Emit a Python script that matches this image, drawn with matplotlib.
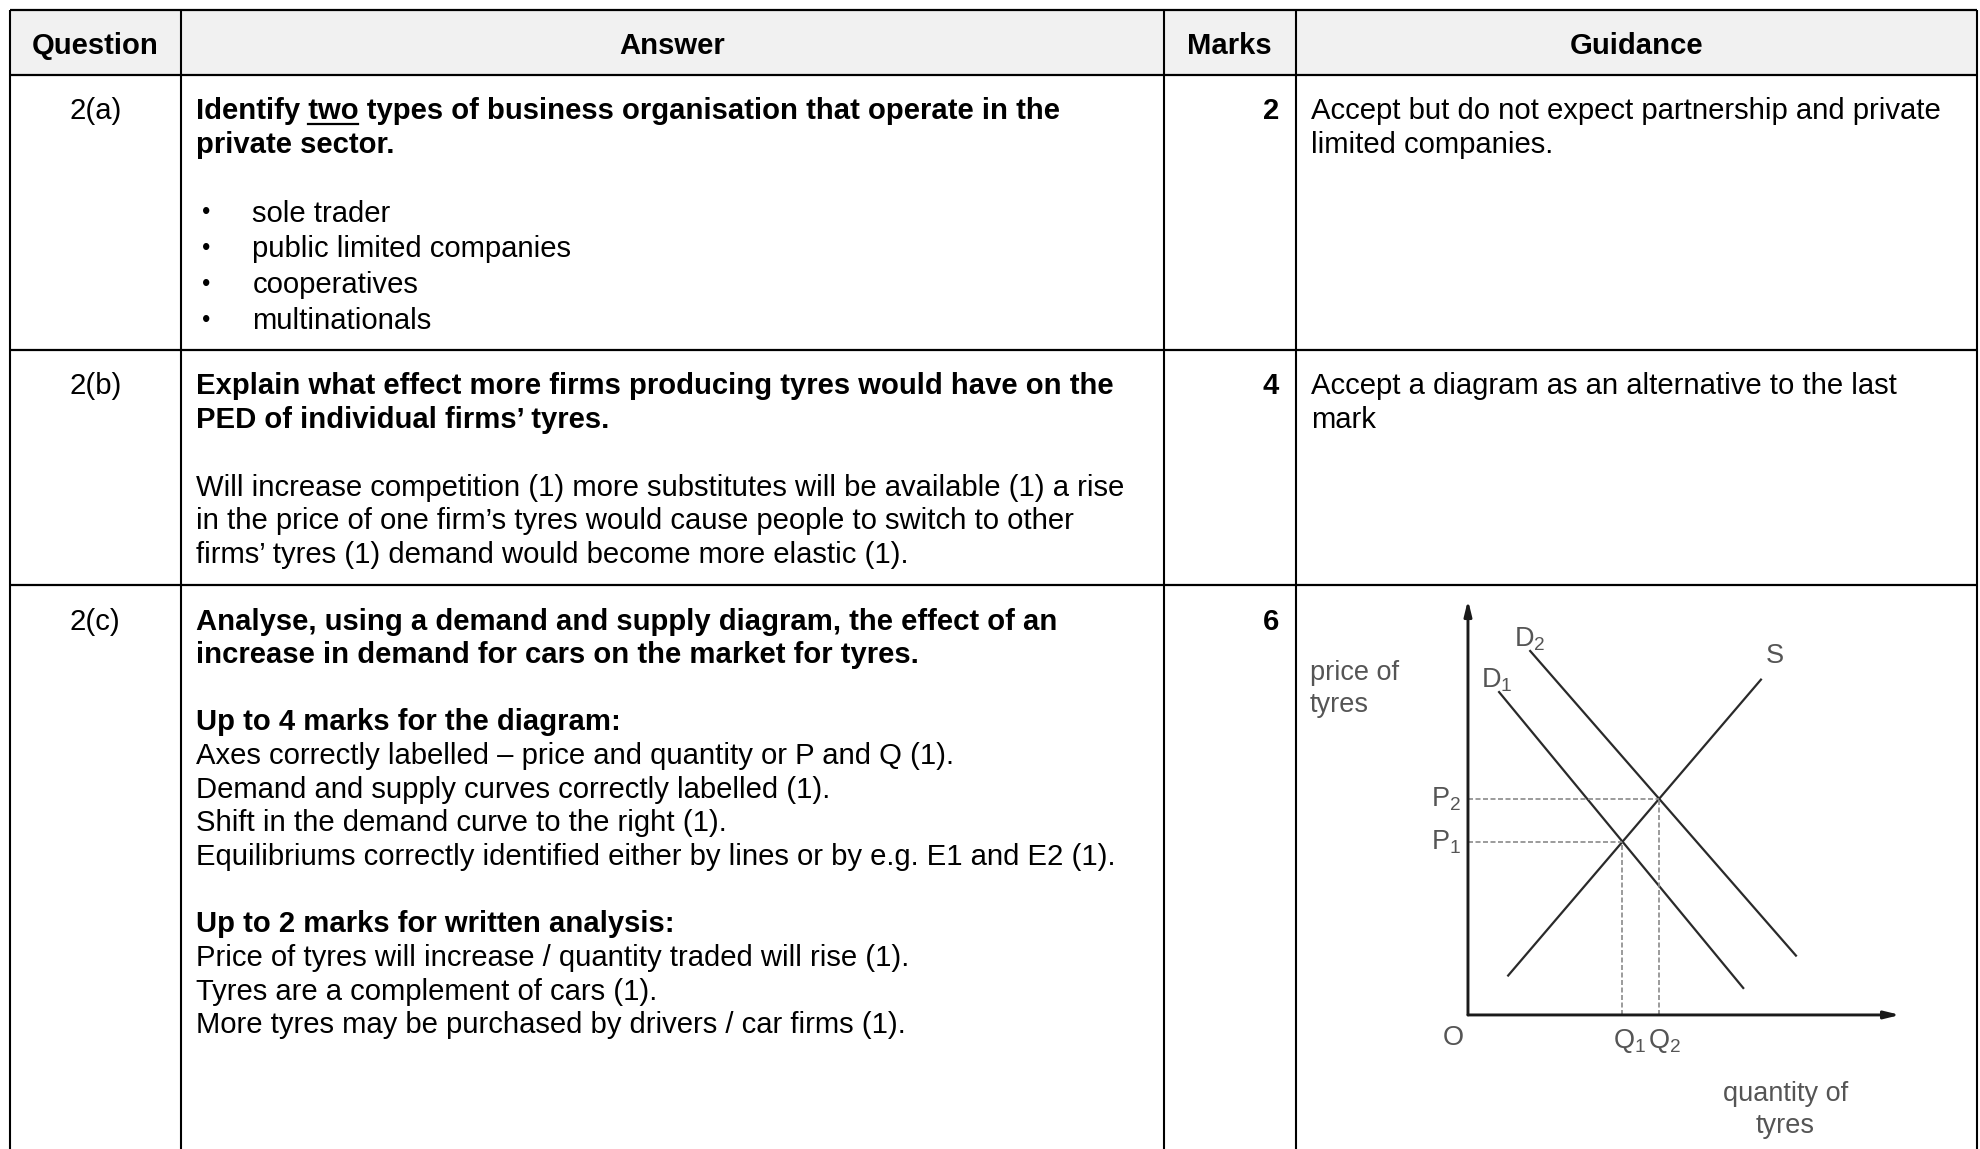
import matplotlib
matplotlib.use('Agg')
import matplotlib.pyplot as plt
from matplotlib.patches import Rectangle

plt.rcParams['font.family'] = ['Liberation Sans', 'DejaVu Sans']
plt.rcParams['mathtext.fontset'] = 'custom'
plt.rcParams['mathtext.rm'] = 'Liberation Sans'
plt.rcParams['mathtext.it'] = 'Liberation Sans'

# table content
headers = ['Question', 'Answer', 'Marks', 'Guidance']
questions = ['2(a)', '2(b)', '2(c)']
marks = ['2', '4', '6']

q1_bold = ['Identify two types of business organisation that operate in the',
           'private sector.']
q1_bullets = ['sole trader', 'public limited companies', 'cooperatives', 'multinationals']
q1_guidance = ['Accept but do not expect partnership and private',
               'limited companies.']

q2_bold = ['Explain what effect more firms producing tyres would have on the',
           'PED of individual firms\u2019 tyres.']
q2_text = ['Will increase competition (1) more substitutes will be available (1) a rise',
           'in the price of one firm\u2019s tyres would cause people to switch to other',
           'firms\u2019 tyres (1) demand would become more elastic (1).']
q2_guidance = ['Accept a diagram as an alternative to the last', 'mark']

q3_bold = ['Analyse, using a demand and supply diagram, the effect of an',
           'increase in demand for cars on the market for tyres.']
q3_head1 = 'Up to 4 marks for the diagram:'
q3_text1 = ['Axes correctly labelled \u2013 price and quantity or P and Q (1).',
            'Demand and supply curves correctly labelled (1).',
            'Shift in the demand curve to the right (1).',
            'Equilibriums correctly identified either by lines or by e.g. E1 and E2 (1).']
q3_head2 = 'Up to 2 marks for written analysis:'
q3_text2 = ['Price of tyres will increase / quantity traded will rise (1).',
            'Tyres are a complement of cars (1).',
            'More tyres may be purchased by drivers / car firms (1).']

# diagram data (quantity, price)
d1_q = [0.72, 6.37]
d1_p = [7.78, 0.65]
d2_q = [1.44, 7.59]
d2_p = [8.77, 1.43]
s_q = [0.93, 6.78]
s_p = [0.95, 8.08]
eq_q = [3.56, 4.42]
eq_p = [4.17, 5.20]

W, H = 1980, 1149
fig = plt.figure(figsize=(W / 100, H / 100), dpi=100)
ax = fig.add_axes([0, 0, 1, 1])
ax.set_xlim(0, W)
ax.set_ylim(H, 0)
ax.axis('off')

col_edges = [10, 180.6, 1164, 1295.6, 1977]
row_edges = [10, 74.5, 350, 585]
FS = 21.1
STEP = 33.7
DY = 2.5  # small downward nudge of text centres

# header background
ax.add_patch(Rectangle((col_edges[0], row_edges[0]), col_edges[-1] - col_edges[0],
                       row_edges[1] - row_edges[0], facecolor='#f1f1f1', edgecolor='none'))
ax.hlines(row_edges, col_edges[0], col_edges[-1], color='black', lw=1.6)
ax.vlines(col_edges, row_edges[0], H, color='black', lw=1.5)

for i, h in enumerate(headers):
    cx = (col_edges[i] + col_edges[i + 1]) / 2
    ax.text(cx, 43 + DY, h, ha='center', va='center', fontsize=FS, fontweight='bold')

row_tops = [108.6 + DY, 384 + DY, 619 + DY]
qx = (col_edges[0] + col_edges[1]) / 2
ans_x = 195.7
guid_x = 1311
mark_x = 1279

for i in range(3):
    ax.text(qx, row_tops[i], questions[i], ha='center', va='center', fontsize=FS)
    ax.text(mark_x, row_tops[i], marks[i], ha='right', va='center', fontsize=FS, fontweight='bold')


def lines(x, y0, items, bold=False, step=STEP):
    for k, t in enumerate(items):
        ax.text(x, y0 + k * step, t, ha='left', va='center', fontsize=FS,
                fontweight='bold' if bold else 'normal')


# row 1: first line with underlined "two"
renderer = fig.canvas.get_renderer()
pre = ax.text(ans_x, row_tops[0], 'Identify two', ha='left', va='center',
              fontsize=FS, fontweight='bold', alpha=0)
tmp = ax.text(0, 0, 'two', fontsize=FS, fontweight='bold', alpha=0)
full_w = pre.get_window_extent(renderer).width
two_w = tmp.get_window_extent(renderer).width
tmp.remove()
pre.remove()
lines(ans_x, row_tops[0], q1_bold, bold=True)
u_y = row_tops[0] + 13
ax.plot([ans_x + full_w - two_w, ans_x + full_w], [u_y, u_y], color='black', lw=1.6)

for k, t in enumerate(q1_bullets):
    y = 211 + DY + k * 35.7
    ax.text(202, y, '\u2022', ha='left', va='center', fontsize=FS - 4)
    ax.text(252.5, y, t, ha='left', va='center', fontsize=FS)
lines(guid_x, row_tops[0], q1_guidance)

# row 2
lines(ans_x, row_tops[1], q2_bold, bold=True)
lines(ans_x, 485 + DY, q2_text)
lines(guid_x, row_tops[1], q2_guidance)

# row 3
lines(ans_x, row_tops[2], q3_bold, bold=True)
lines(ans_x, 720 + DY, [q3_head1], bold=True)
lines(ans_x, 753.5 + DY, q3_text1)
lines(ans_x, 922 + DY, [q3_head2], bold=True)
lines(ans_x, 955.5 + DY, q3_text2)

# demand and supply diagram
dax = fig.add_axes([1296 / W, 0, 681 / W, 564 / H])
dax.set_xlim(-3.98, 11.78)
dax.set_ylim(-3.23, 10.36)
dax.axis('off')
dax.patch.set_alpha(0)

arrow = dict(arrowstyle='-|>,head_length=0.9,head_width=0.22', color='#1a1a1a',
             lw=2.1, shrinkA=0, shrinkB=0)
dax.annotate('', xy=(0, 10.0), xytext=(0, 0), arrowprops=arrow)
dax.annotate('', xy=(10.0, 0), xytext=(0, 0), arrowprops=arrow)

dax.plot(d1_q, d1_p, color='#2a2a2a', lw=1.6)
dax.plot(d2_q, d2_p, color='#2a2a2a', lw=1.6)
dax.plot(s_q, s_p, color='#2a2a2a', lw=1.6)

for q, p in zip(eq_q, eq_p):
    dax.plot([0, q], [p, p], color='#8a8a8a', lw=1.2, ls=(0, (3, 1.5)))
    dax.plot([q, q], [0, p], color='#8a8a8a', lw=1.2, ls=(0, (3, 1.5)))

lc = '#555555'
dfs = 19.5
dax.text(-3.66, 7.85, 'price of\ntyres', ha='left', va='center', fontsize=dfs,
         color=lc, linespacing=1.3)
dax.text(1.44, 9.05, 'D$_2$', ha='center', va='center', fontsize=dfs, color=lc)
dax.text(0.67, 8.07, 'D$_1$', ha='center', va='center', fontsize=dfs, color=lc)
dax.text(7.1, 8.65, 'S', ha='center', va='center', fontsize=dfs, color=lc)
dax.text(-0.5, eq_p[1], 'P$_2$', ha='center', va='center', fontsize=dfs, color=lc)
dax.text(-0.5, eq_p[0], 'P$_1$', ha='center', va='center', fontsize=dfs, color=lc)
dax.text(-0.35, -0.55, 'O', ha='center', va='center', fontsize=dfs, color=lc)
dax.text(eq_q[0] + 0.17, -0.62, 'Q$_1$', ha='center', va='center', fontsize=dfs, color=lc)
dax.text(eq_q[1] + 0.12, -0.62, 'Q$_2$', ha='center', va='center', fontsize=dfs, color=lc)
dax.text(7.34, -2.3, 'quantity of\ntyres', ha='center', va='center', fontsize=dfs,
         color=lc, linespacing=1.3)

fig.savefig('out.png', dpi=100, facecolor='white')
plt.close(fig)
